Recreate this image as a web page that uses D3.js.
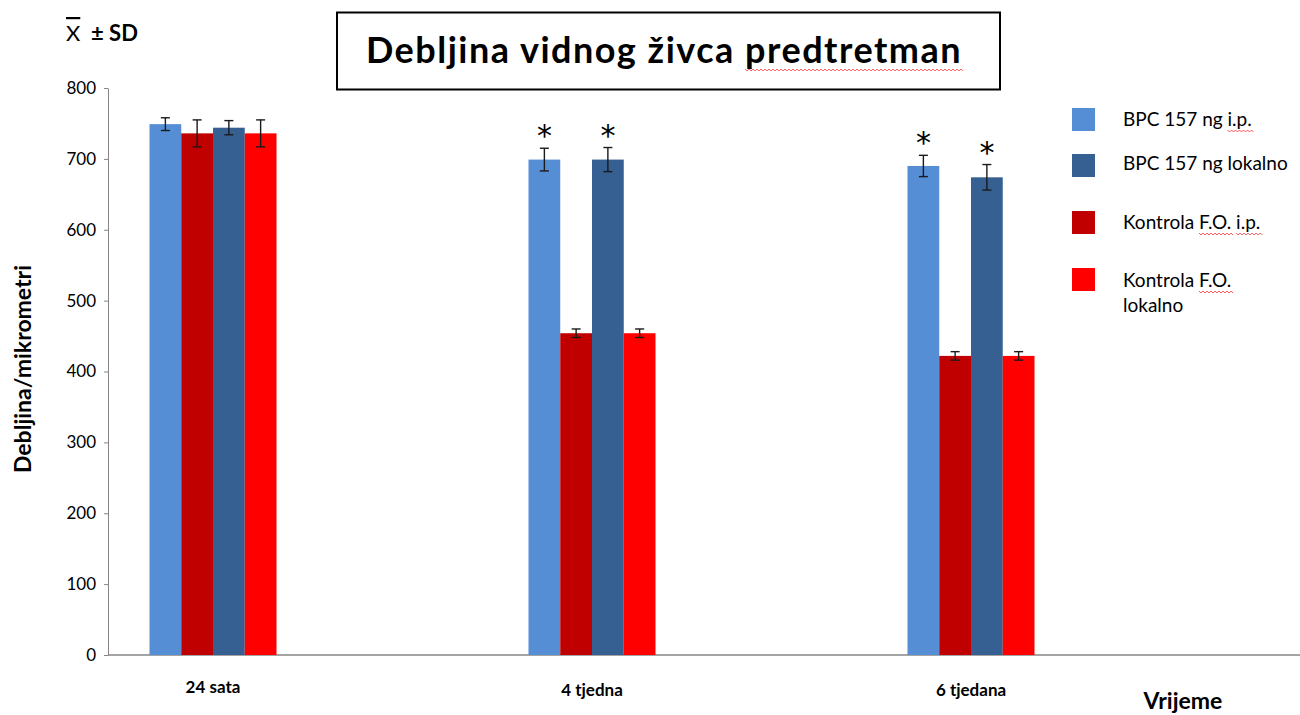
<!DOCTYPE html>
<html>
<head>
<meta charset="utf-8">
<script src="https://cdn.jsdelivr.net/npm/d3@7"></script>
<style>
  html, body { margin: 0; padding: 0; background: #fff; }
  svg { display: block; font-family: Lato, "Open Sans", sans-serif; }
</style>
</head>
<body>
<svg id="chart" width="1300" height="715"></svg>
<script>
// Time points and series
const categories = ["24 sata", "4 tjedna", "6 tjedana"];
const seriesNames = ["BPC 157 ng i.p.", "Kontrola F.O. i.p.", "BPC 157 ng lokalno", "Kontrola F.O. lokalno"];
const seriesColors = ["#558ED5", "#C00000", "#376092", "#FF0000"];
// mean thickness (micrometres) per series, one value per time point
const bpcIp      = [749, 699, 690];
const kontrolaIp = [736, 454, 422];
const bpcLok     = [744, 699, 674];
const kontrolaLok= [736, 454, 422];
// standard deviations
const bpcIpSd      = [9, 16, 15];
const kontrolaIpSd = [19, 6, 6];
const bpcLokSd     = [10, 17, 18];
const kontrolaLokSd= [19, 6, 6];
// significance marks (1 = marked with *)
const bpcIpSig  = [0, 1, 1];
const bpcLokSig = [0, 1, 1];
const yTicks = [0, 100, 200, 300, 400, 500, 600, 700, 800];

const values = [bpcIp, kontrolaIp, bpcLok, kontrolaLok];
const sds = [bpcIpSd, kontrolaIpSd, bpcLokSd, kontrolaLokSd];
const sigs = [bpcIpSig, null, bpcLokSig, null];

const svg = d3.select("#chart");

const y = d3.scaleLinear().domain([0, 800]).range([655, 88]);
const x0 = d3.scaleBand().domain(categories).range([23.5, 1160.5]);
const x1 = d3.scaleBand().domain(d3.range(4)).range([0, 127]);
const groupLeft = c => x0(c) + x0.bandwidth() / 2 - 63.5;

// y axis
const yAxis = svg.append("g").attr("transform", "translate(108,0)")
  .call(d3.axisLeft(y).tickValues(yTicks).tickSize(4).tickSizeOuter(0).tickPadding(8));
yAxis.select(".domain").attr("stroke", "#868686");
yAxis.selectAll(".tick line").attr("stroke", "#868686");
yAxis.selectAll(".tick text").attr("font-size", 17).attr("fill", "#000")
  .attr("font-family", "Lato, sans-serif");

// x axis line
svg.append("line").attr("x1", 108).attr("x2", 1300).attr("y1", y(0)).attr("y2", y(0))
  .attr("stroke", "#868686").attr("stroke-width", 1.3);

// bars
const bars = svg.append("g");
values.forEach((vals, s) => {
  bars.selectAll(null).data(categories).enter().append("rect")
    .attr("x", c => groupLeft(c) + x1(s))
    .attr("width", x1.bandwidth())
    .attr("y", (c, i) => y(vals[i]))
    .attr("height", (c, i) => y(0) - y(vals[i]))
    .attr("fill", seriesColors[s]);
});

// error bars
const eb = svg.append("g").attr("stroke", "#1a1a1a").attr("stroke-width", 1.4);
values.forEach((vals, s) => {
  categories.forEach((c, i) => {
    const cx = groupLeft(c) + x1(s) + x1.bandwidth() / 2;
    const top = y(vals[i] + sds[s][i]), bot = y(vals[i] - sds[s][i]);
    eb.append("line").attr("x1", cx).attr("x2", cx).attr("y1", top).attr("y2", bot);
    eb.append("line").attr("x1", cx - 4.5).attr("x2", cx + 4.5).attr("y1", top).attr("y2", top);
    eb.append("line").attr("x1", cx - 4.5).attr("x2", cx + 4.5).attr("y1", bot).attr("y2", bot);
    if (sigs[s] && sigs[s][i]) {
      svg.append("text").attr("x", cx).attr("y", top - 2)
        .attr("text-anchor", "middle").attr("font-size", 30)
        .attr("font-family", "DejaVu Sans, sans-serif").attr("fill", "#000")
        .text("*");
    }
  });
});

// category labels
svg.selectAll(null).data(categories).enter().append("text")
  .attr("x", c => x0(c) + x0.bandwidth() / 2)
  .attr("y", (c, i) => i === 0 ? 693 : 696)
  .attr("text-anchor", "middle").attr("font-weight", "bold").attr("font-size", 17)
  .text(c => c);

// spell-check squiggle under a substring
function squiggle(textSel, start, len, yOff) {
  const node = textSel.node();
  const xs = node.getStartPositionOfChar(start).x;
  const xe = node.getEndPositionOfChar(start + len - 1).x;
  const by = +textSel.attr("y") + yOff;
  let d = `M${xs},${by}`;
  for (let xx = xs, k = 0; xx < xe; xx += 2, k++) {
    d += `L${xx + 2},${by + (k % 2 ? 0 : 2)}`;
  }
  svg.append("path").attr("d", d).attr("fill", "none").attr("stroke", "#ff3333").attr("stroke-width", 0.8);
}

// title box
svg.append("rect").attr("x", 337).attr("y", 12.5).attr("width", 663).attr("height", 77)
  .attr("fill", "#fff").attr("stroke", "#000").attr("stroke-width", 2);
const title = svg.append("text").attr("x", 664).attr("y", 63).attr("text-anchor", "middle")
  .attr("font-weight", "bold").attr("font-size", 36).attr("fill", "#000")
  .attr("letter-spacing", 1.5)
  .text("Debljina vidnog živca predtretman");
squiggle(title, 22, 11, 6);

// mean ± SD label
const msd = svg.append("text").attr("x", 66).attr("y", 41).attr("font-size", 22).attr("fill", "#000");
msd.append("tspan").attr("text-decoration", "overline").text("X");
msd.append("tspan").attr("font-weight", "bold").text("\u00A0 \u00B1 SD");

// axis titles
svg.append("text").attr("transform", "translate(31,369) rotate(-90)")
  .attr("text-anchor", "middle").attr("font-weight", "bold").attr("font-size", 23)
  .text("Debljina/mikrometri");
svg.append("text").attr("x", 1183).attr("y", 709).attr("text-anchor", "middle")
  .attr("font-weight", "bold").attr("font-size", 23).text("Vrijeme");

// legend
const legendOrder = [0, 2, 1, 3];
const legendY = [108, 154, 211, 268];
legendOrder.forEach((s, k) => {
  svg.append("rect").attr("x", 1072).attr("y", legendY[k]).attr("width", 23).attr("height", 23)
    .attr("fill", seriesColors[s]);
});
const lt = [];
lt.push(svg.append("text").attr("x", 1123).attr("y", 126).attr("font-size", 19).text("BPC 157 ng i.p."));
lt.push(svg.append("text").attr("x", 1123).attr("y", 170).attr("font-size", 19).text("BPC 157 ng lokalno"));
lt.push(svg.append("text").attr("x", 1123).attr("y", 229).attr("font-size", 19).text("Kontrola F.O. i.p."));
lt.push(svg.append("text").attr("x", 1123).attr("y", 287).attr("font-size", 19).text("Kontrola F.O."));
svg.append("text").attr("x", 1123).attr("y", 312).attr("font-size", 19).text("lokalno");
squiggle(lt[0], 11, 4, 4);
squiggle(lt[2], 9, 4, 4);
squiggle(lt[2], 14, 4, 4);
squiggle(lt[3], 9, 4, 4);
</script>
</body>
</html>
